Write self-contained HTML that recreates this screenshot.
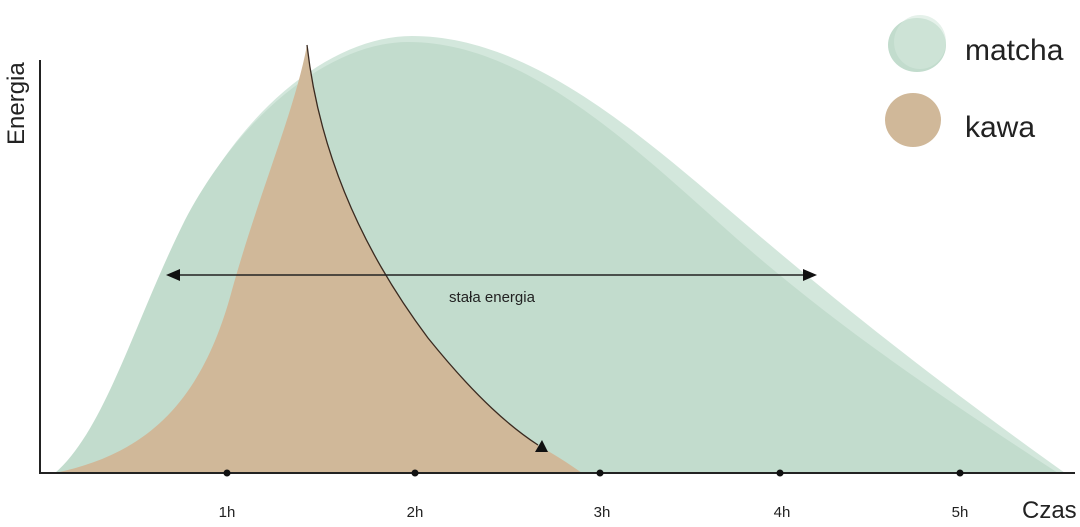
<!DOCTYPE html>
<html><head><meta charset="utf-8"><style>
html,body{margin:0;padding:0;background:#fff;}
svg{display:block;}
text{font-family:"Liberation Sans",sans-serif;}
</style></head><body>
<svg width="1080" height="527" viewBox="0 0 1080 527" xmlns="http://www.w3.org/2000/svg">
<!-- matcha outer light -->
<path d="M62,473 C110,430 140,320 190,215 C245,105 335,36 412,36 C525,36 630,125 735,215 C840,305 935,380 1065,473 Z" fill="#d3e7dc"/>
<!-- matcha -->
<path d="M55,473 C105,430 135,320 185,220 C240,115 330,42 408,42 C518,42 618,132 718,222 C818,312 918,382 1058,473 Z" fill="#c2dccd"/>
<!-- kawa -->
<path d="M55,473 C140,455 200,410 232,290 C260,190 295,110 307,45 C320,160 368,258 428,338 C478,400 512,428 538,445 C555,455 568,463 582,473 Z" fill="#d0b899"/>
<!-- black curve -->
<path d="M307,45 C320,160 368,258 428,338 C478,400 512,428 538,445" fill="none" stroke="#3a2a20" stroke-width="1.3"/>
<polygon points="535,452 548,452 542,440" fill="#111"/>
<!-- axes -->
<line x1="40" y1="60" x2="40" y2="474" stroke="#222" stroke-width="2"/>
<line x1="40" y1="473" x2="1075" y2="473" stroke="#222" stroke-width="2"/>
<g fill="#111"><circle cx="227" cy="473" r="3.5"/><circle cx="415" cy="473" r="3.5"/><circle cx="600" cy="473" r="3.5"/><circle cx="780" cy="473" r="3.5"/><circle cx="960" cy="473" r="3.5"/></g>
<g font-size="15" fill="#222" text-anchor="middle">
<text x="227" y="517">1h</text><text x="415" y="517">2h</text><text x="602" y="517">3h</text><text x="782" y="517">4h</text><text x="960" y="517">5h</text>
</g>
<text x="1022" y="518" font-size="24" fill="#222">Czas</text>
<text transform="translate(24,145) rotate(-90)" font-size="24" fill="#222">Energia</text>
<!-- double arrow -->
<line x1="172" y1="275" x2="810" y2="275" stroke="#222" stroke-width="1.5"/>
<polygon points="166,275 180,269 180,281" fill="#111"/>
<polygon points="817,275 803,269 803,281" fill="#111"/>
<text x="492" y="302" font-size="15" fill="#222" text-anchor="middle">stała energia</text>
<!-- legend -->
<ellipse cx="917" cy="45" rx="29" ry="27" fill="#c2dccd"/>
<ellipse cx="920" cy="42" rx="26" ry="27" fill="#d3e7dc" opacity="0.6"/>
<ellipse cx="913" cy="120" rx="28" ry="27" fill="#d0b899"/>
<text x="965" y="60" font-size="30" fill="#222">matcha</text>
<text x="965" y="137" font-size="30" fill="#222">kawa</text>
</svg>
</body></html>
